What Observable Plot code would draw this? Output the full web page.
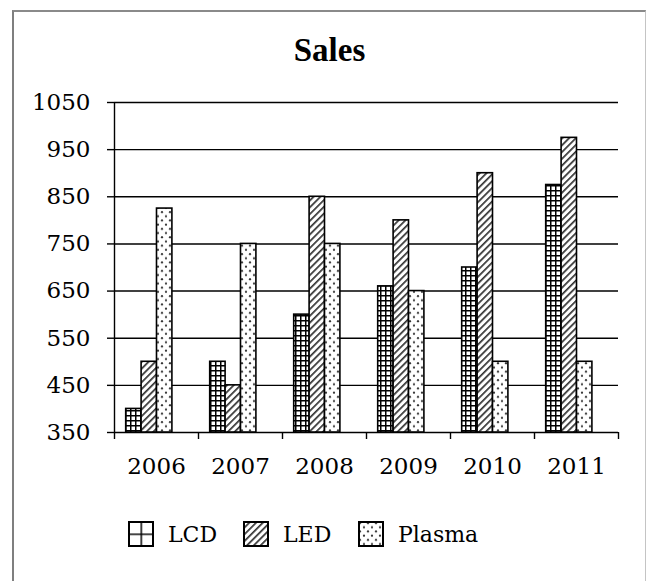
<!DOCTYPE html>
<html>
<head>
<meta charset="utf-8">
<script src="https://cdn.jsdelivr.net/npm/d3@7"></script>
<script src="https://cdn.jsdelivr.net/npm/@observablehq/plot@0.6"></script>
<style>
  html, body { margin: 0; padding: 0; background: #fff; width: 647px; height: 581px; overflow: hidden; }
  #frame { position: absolute; left: 12px; top: 10px; width: 634px; height: 600px; box-sizing: border-box;
           border-left: 2px solid #7f7f7f; border-top: 2px solid #8a8a8a; border-right: 1px solid #c4c4c4; }
  #title { position: absolute; left: 13px; width: 633px; top: 34px; text-align: center;
           font-family: "Liberation Serif", serif; font-weight: bold; font-size: 33px; line-height: 33px; color: #000; }
  #chart { position: absolute; left: 0; top: 0; }
  #legend { position: absolute; left: 128px; top: 521px; display: flex; align-items: center;
            font-family: "DejaVu Serif", serif; font-size: 22px; color: #000; }
  .item { display: flex; align-items: center; }
  .item svg { display: block; margin-right: 14px; }
</style>
</head>
<body>
<svg width="0" height="0" style="position:absolute">
  <defs>
    <pattern id="pLCD" width="5" height="5" patternUnits="userSpaceOnUse">
      <rect width="5" height="5" fill="#fff"/>
      <path d="M0 0.75H5M0.75 0V5" stroke="#000" stroke-width="1.5"/>
    </pattern>
    <pattern id="pLCDbig" width="12.5" height="12.5" patternUnits="userSpaceOnUse">
      <rect width="12.5" height="12.5" fill="#fff"/>
      <path d="M0 0H12.5M0 0V12.5" stroke="#000" stroke-width="3"/>
    </pattern>
    <pattern id="pLED" width="4.8" height="4.8" patternUnits="userSpaceOnUse" patternTransform="rotate(45)">
      <rect width="4.8" height="4.8" fill="#fff"/>
      <rect width="1.7" height="4.8" fill="#333"/>
    </pattern>
    <pattern id="pPL" width="8" height="8.4" patternUnits="userSpaceOnUse">
      <rect width="8" height="8.4" fill="#fff"/>
      <circle cx="2" cy="2" r="1.1" fill="#333"/>
      <circle cx="6" cy="6.2" r="1.1" fill="#333"/>
    </pattern>
  </defs>
</svg>
<div id="frame"></div>
<div id="title">Sales</div>
<div id="chart"></div>
<div id="legend"></div>
<script>
// ---- data ----
const years = ["2006", "2007", "2008", "2009", "2010", "2011"];
const series = ["LCD", "LED", "Plasma"];
const lcd = [400, 500, 600, 660, 700, 875];
const led = [500, 450, 850, 800, 900, 975];
const plasma = [825, 750, 750, 650, 500, 500];
const yTicks = [350, 450, 550, 650, 750, 850, 950, 1050];

const values = {LCD: lcd, LED: led, Plasma: plasma};
const fills = {LCD: "url(#pLCD)", LED: "url(#pLED)", Plasma: "url(#pPL)"};
const legendFills = {LCD: "url(#pLCDbig)", LED: "url(#pLED)", Plasma: "url(#pPL)"};

// ---- layout ----
const W = 647, H = 480, mL = 114, mR = 29, mT = 102, mB = 48;
const band = (W - mL - mR) / years.length;   // 84
const barW = 15.4, groupStart = 11.7;

const barMarks = series.map((s, j) => {
  const rows = years.map((y, i) => ({year: y, series: s, value: values[s][i]}));
  const left = groupStart + j * barW;
  return Plot.barY(rows, {
    x: "year", y1: yTicks[0], y2: "value",
    fill: fills[s], stroke: "#000", strokeWidth: 1.6,
    insetLeft: left, insetRight: band - left - barW
  });
});

const chart = Plot.plot({
  width: W, height: H,
  marginLeft: mL, marginRight: mR, marginTop: mT, marginBottom: mB,
  x: {domain: years, padding: 0, label: null},
  y: {domain: [yTicks[0], yTicks[yTicks.length - 1]], label: null},
  style: {fontFamily: "DejaVu Serif, serif", fontSize: "23px", color: "#000", background: "transparent", overflow: "visible"},
  marks: [
    Plot.gridY(yTicks, {stroke: "#000", strokeOpacity: 1, strokeWidth: 1.4}),
    Plot.ruleX([years[0]], {dx: -band / 2, stroke: "#000", strokeWidth: 1.4}),
    Plot.axisY(yTicks, {tickSize: 7, tickPadding: 17, fontSize: 23, strokeWidth: 1.4, label: null, tickFormat: d => String(d)}),
    Plot.axisX(years, {tickSize: 0, tickPadding: 25, fontSize: 23, label: null}),
    Plot.axisX(years, {tickSize: 7, tickFormat: () => "", dx: -band / 2, strokeWidth: 1.4, label: null}),
    Plot.axisX([years[years.length - 1]], {tickSize: 7, tickFormat: () => "", dx: band / 2, strokeWidth: 1.4, label: null}),
    ...barMarks
  ]
});
document.getElementById("chart").appendChild(chart);

// ---- legend ----
const legend = d3.select("#legend");
series.forEach((s, j) => {
  const item = legend.append("div").attr("class", "item")
    .style("width", j < series.length - 1 ? "115px" : null);
  const sw = item.append("svg").attr("width", 26).attr("height", 26);
  sw.append("rect").attr("x", 1).attr("y", 1).attr("width", 24).attr("height", 24)
    .attr("fill", legendFills[s]).attr("stroke", "#000").attr("stroke-width", 2);
  item.append("span").text(s);
});
</script>
</body>
</html>
